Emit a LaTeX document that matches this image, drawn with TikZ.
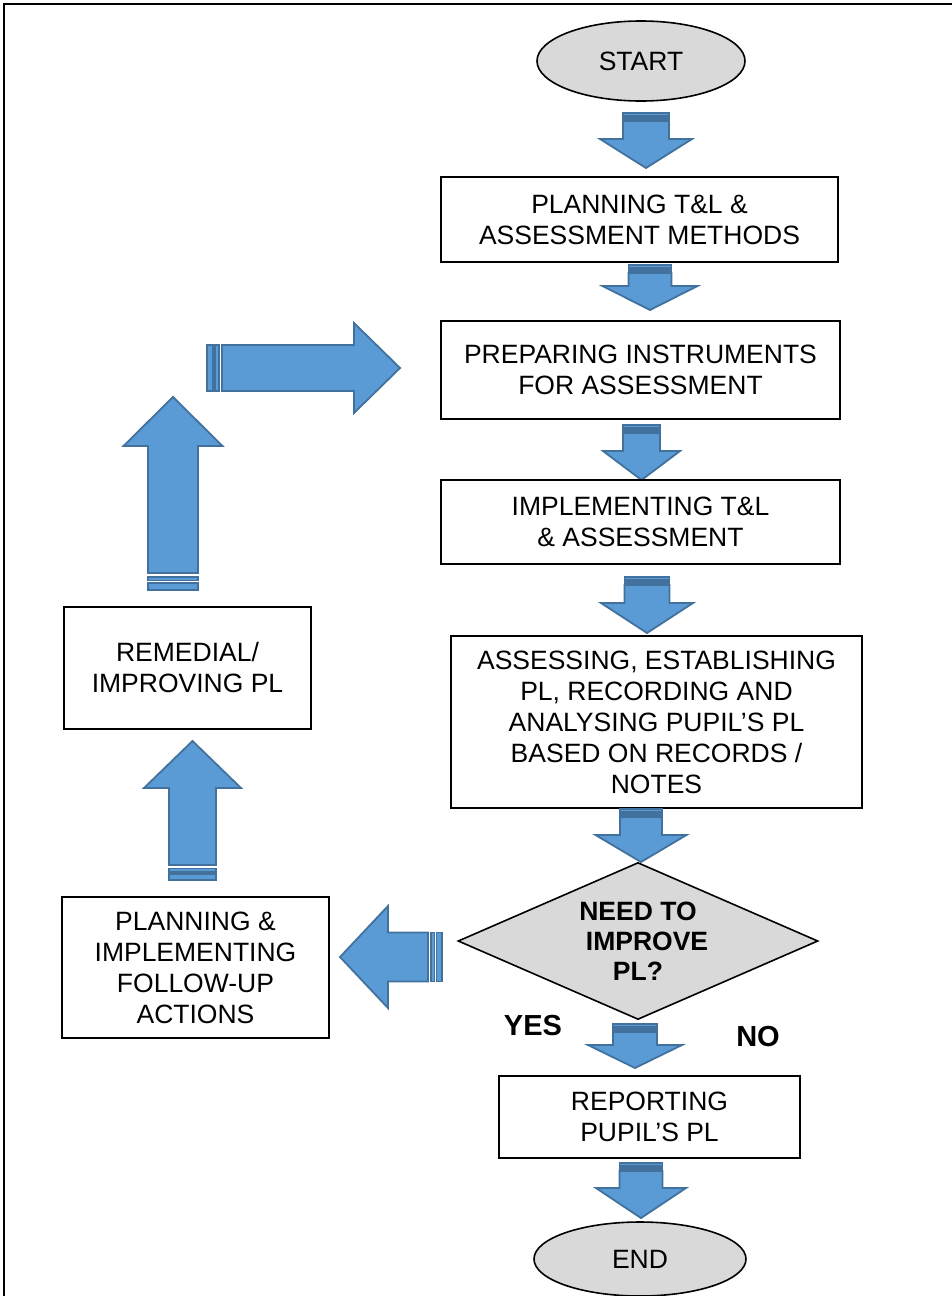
\documentclass[tikz,border=0pt]{standalone}
\usepackage{fontspec}
\setmainfont{Liberation Sans}
\usetikzlibrary{shapes.geometric}

\definecolor{arrowfill}{HTML}{5B9BD5}
\definecolor{arrowline}{HTML}{41719C}
\definecolor{termfill}{HTML}{D9D9D9}

% Striped block arrow: tail centre (#1,#2), rotation #3, total length #4,
% shaft half width #5, head half width #6, head length #7, stripe zone #8
\newcommand\blockarrow[8]{%
  \begin{scope}[shift={(#1,#2)}, rotate=#3]
    \filldraw[stripe] (0,-#5) rectangle ({0.4*#8},#5);
    \filldraw[stripe] ({0.55*#8},-#5) rectangle ({0.78*#8},#5);
    \filldraw[barrow] (#8,-#5) -- ({#4-#7},-#5) -- ({#4-#7},-#6) -- (#4,0)
      -- ({#4-#7},#6) -- ({#4-#7},#5) -- (#8,#5) -- cycle;
  \end{scope}}

\tikzset{
  barrow/.style={fill=arrowfill, draw=arrowline, line width=1.8pt, line join=miter},
  stripe/.style={fill=arrowfill, draw=arrowline, line width=1.6pt},
  stepbox/.style={draw=black, line width=1.6pt, fill=white, inner sep=0pt,
    align=center, font=\fontsize{26.5}{31}\selectfont},
  terminal/.style={ellipse, draw=black, line width=1.6pt, fill=termfill,
    inner sep=0pt, font=\fontsize{26.5}{31}\selectfont},
  decision/.style={diamond, aspect=2.29, draw=black, line width=1.6pt, fill=termfill,
    inner sep=0pt, align=center, font=\fontsize{26.5}{30}\selectfont\bfseries},
  answer/.style={font=\fontsize{29}{33}\selectfont\bfseries}
}

\begin{document}
\begin{tikzpicture}[x=1pt, y=-1pt]
  \useasboundingbox (0,0) rectangle (952,1296);

  % page frame
  \draw[line width=1.8pt] (4,1296) -- (4,4) -- (952,4);

  % downward block arrows of the main column
  \blockarrow{646}{113}{-90}{55}{23}{46}{29}{8}
  \blockarrow{650}{265}{-90}{45}{21.5}{47.5}{24}{8}
  \blockarrow{641.5}{425}{-90}{55}{18.5}{38.5}{29}{8}
  \blockarrow{647}{577}{-90}{56}{22.5}{46}{30}{8}
  \blockarrow{635}{1024}{-90}{44}{22}{47}{23}{8}
  \blockarrow{641}{1163}{-90}{55}{21.5}{45}{30}{8}

  % main column
  \node[terminal, minimum width=208pt, minimum height=80pt] (start) at (641,61) {START};
  \node[stepbox, minimum width=397pt, minimum height=85pt] (plan) at (639.5,219.5)
    {PLANNING T\&L \&\\ASSESSMENT METHODS};
  \node[stepbox, minimum width=399pt, minimum height=98pt] (prep) at (640.5,370)
    {PREPARING INSTRUMENTS\\FOR ASSESSMENT};
  \node[stepbox, minimum width=399pt, minimum height=84pt] (impl) at (640.5,522)
    {IMPLEMENTING T\&L\\\& ASSESSMENT};
  \node[stepbox, minimum width=411pt, minimum height=172pt] (assess) at (656.5,722)
    {ASSESSING, ESTABLISHING\\PL, RECORDING AND\\ANALYSING PUPIL’S PL\\BASED ON RECORDS /\\NOTES};
  \node[decision, minimum width=360pt, minimum height=157pt] (need) at (638,941)
    {NEED TO\\\hspace{18pt}IMPROVE\\PL?\hspace{10pt}};
  \node[stepbox, minimum width=301pt, minimum height=82pt] (report) at (649.5,1117)
    {REPORTING\\PUPIL’S PL};
  \node[terminal, minimum width=212pt, minimum height=74pt] (end) at (640,1259) {END};

  % arrow into the decision, drawn over its top corner
  \blockarrow{641}{809}{-90}{53}{21}{45.5}{27}{8}

  \node[answer] (yes) at (533,1026) {YES};
  \node[answer] (no) at (758,1037) {NO};

  % feedback column
  \node[stepbox, minimum width=267pt, minimum height=141pt] (follow) at (195.5,967.5)
    {PLANNING \&\\IMPLEMENTING\\FOLLOW-UP\\ACTIONS};
  \node[stepbox, minimum width=247pt, minimum height=122pt] (remedial) at (187.5,668)
    {REMEDIAL/\\IMPROVING PL};

  % feedback loop arrows
  \blockarrow{442}{957}{180}{102}{24.5}{51}{48}{14}
  \blockarrow{192.5}{880}{90}{139}{23.5}{48.5}{47}{15}
  \blockarrow{173}{590}{90}{193}{25}{49.5}{49}{17}
  \blockarrow{207}{368}{0}{193}{23}{45}{46}{15}
\end{tikzpicture}
\end{document}
